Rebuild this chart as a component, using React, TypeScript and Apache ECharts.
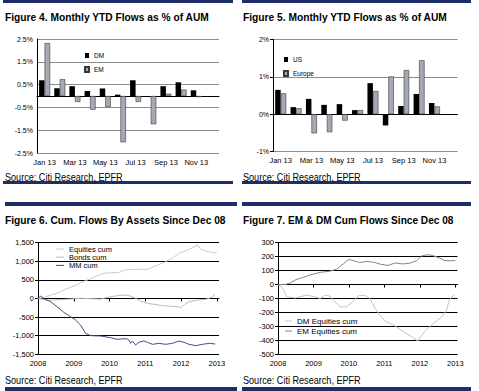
import React, { useEffect, useRef } from 'react';
import * as echarts from 'echarts';

const FONT = '"Liberation Sans", Arial, sans-serif';

// Figure 4 & 5: monthly YTD flows as % of AUM
const months = ['Jan 13', 'Feb 13', 'Mar 13', 'Apr 13', 'May 13', 'Jun 13', 'Jul 13', 'Aug 13', 'Sep 13', 'Oct 13', 'Nov 13', 'Dec 13'];
const dmFlows = [0.69, 0.34, 0.43, 0.22, 0.33, 0.06, 0.69, 0, 0.43, 0.6, 0.25, null];
const emFlows = [2.32, 0.74, -0.26, -0.6, -0.48, -2.03, -0.26, -1.24, 0.1, 0.28, -0.05, null];
const usFlows = [0.65, 0.19, 0.41, 0.25, 0.27, 0.11, 0.83, -0.3, 0.22, 0.54, 0.3, null];
const europeFlows = [0.56, 0.16, -0.51, -0.48, -0.17, 0.11, 0.62, 1.01, 1.18, 1.44, 0.21, null];
const fig4Ticks = [-2.5, -1.5, -0.5, 0.5, 1.5, 2.5];

// Figure 6 & 7: cumulative flows since Dec 08 (x = year)
const yearTicks = [2008, 2009, 2010, 2011, 2012, 2013];
const equitiesCum = [
  [2008.0, 0], [2008.15, 20], [2008.35, 90], [2008.5, 130], [2008.72, 228], [2008.9, 300], [2009.09, 363],
  [2009.19, 430], [2009.33, 480], [2009.5, 540], [2009.65, 610], [2009.84, 680], [2010.03, 690], [2010.25, 700],
  [2010.45, 770], [2010.7, 785], [2011.06, 784], [2011.3, 880], [2011.57, 990], [2011.75, 1080], [2011.94, 1214],
  [2012.15, 1290], [2012.32, 1366], [2012.46, 1438], [2012.55, 1330], [2012.74, 1259], [2012.95, 1232], [2013.0, 1225],
];
const bondsCum = [
  [2008.0, 0], [2008.1, -20], [2008.3, -50], [2008.5, -35], [2008.8, -20], [2009.2, 5], [2009.5, -5], [2009.75, -15],
  [2010.0, 40], [2010.25, 80], [2010.45, 94], [2010.6, 60], [2010.73, 4], [2010.9, -80], [2011.06, -130],
  [2011.3, -165], [2011.48, -193], [2011.75, -210], [2011.94, -220], [2011.99, -246], [2012.1, -160],
  [2012.22, -85], [2012.46, -40], [2012.69, -22], [2012.85, 30], [2012.95, 112],
];
const mmCum = [
  [2008.0, 0], [2008.07, 67], [2008.2, -20], [2008.35, -85], [2008.53, -219], [2008.72, -372], [2008.91, -488],
  [2009.05, -578], [2009.19, -712], [2009.33, -936], [2009.47, -999], [2009.75, -1008], [2010.03, -1053],
  [2010.21, -1098], [2010.4, -1080], [2010.5, -1090], [2010.54, -1115], [2010.59, -1205], [2010.64, -1142],
  [2010.73, -1250], [2010.82, -1178], [2010.96, -1142], [2011.06, -1178], [2011.2, -1232], [2011.38, -1205],
  [2011.57, -1232], [2011.76, -1205], [2011.94, -1142], [2012.08, -1178], [2012.22, -1232], [2012.41, -1268],
  [2012.6, -1232], [2012.79, -1205], [2012.95, -1223],
];
const dmEquitiesCum = [
  [2008.0, 0], [2008.11, -17], [2008.25, -88], [2008.49, -96], [2008.65, -85], [2008.81, -76], [2009.05, -88],
  [2009.19, -100], [2009.33, -76], [2009.47, -84], [2009.61, -124], [2009.75, -160], [2009.93, -160],
  [2010.12, -120], [2010.26, -81], [2010.45, -76], [2010.59, -100], [2010.73, -170], [2011.0, -260],
  [2011.29, -295], [2011.57, -345], [2011.76, -372], [2011.94, -405], [2012.08, -355], [2012.22, -315],
  [2012.41, -272], [2012.6, -235], [2012.74, -190], [2012.83, -110], [2012.97, -72],
];
const emEquitiesCum = [
  [2008.0, 0], [2008.2, 0], [2008.35, 12], [2008.5, 35], [2008.7, 50], [2008.9, 68], [2009.2, 88], [2009.45, 95],
  [2009.65, 110], [2009.85, 150], [2010.0, 180], [2010.15, 170], [2010.3, 158], [2010.5, 166], [2010.7, 160],
  [2010.9, 145], [2011.1, 137], [2011.3, 155], [2011.5, 148], [2011.7, 152], [2011.9, 170], [2012.05, 205],
  [2012.2, 213], [2012.35, 210], [2012.55, 190], [2012.7, 172], [2012.85, 170], [2013.0, 172],
];

const NAVY = '#1f2c6a';
const GRAY_BAR = '#a3aab6';
const txt = { color: '#000', fontFamily: FONT };

// label axis at the bottom of the grid, plus a line/tick axis sitting on zero
function catX(gridIndex: number): any[] {
  return [
    {
      gridIndex, type: 'category', data: months, boundaryGap: true, position: 'bottom',
      axisLine: { show: false, onZero: false }, axisTick: { show: false },
      axisLabel: { interval: 1, margin: 5, fontSize: 7.5, ...txt }, splitLine: { show: false },
    },
    {
      gridIndex, type: 'category', data: months, boundaryGap: true, position: 'bottom',
      axisLine: { onZero: true, lineStyle: { color: '#000', width: 1 } },
      axisTick: { interval: 1, length: 3, lineStyle: { color: '#000' } },
      axisLabel: { show: false }, splitLine: { show: false },
    },
  ];
}
function yearX(gridIndex: number): any[] {
  const base = { gridIndex, type: 'value', min: 2008, max: 2013.06, interval: 1, position: 'bottom', splitLine: { show: false } };
  return [
    {
      ...base, axisLine: { show: false, onZero: false }, axisTick: { show: false, customValues: yearTicks },
      axisLabel: { customValues: yearTicks, margin: 5, fontSize: 7.5, formatter: (v: number) => String(v), ...txt },
    },
    {
      ...base, axisLine: { onZero: true, lineStyle: { color: '#000', width: 1 } },
      axisTick: { customValues: yearTicks, length: 3, lineStyle: { color: '#000' } },
      axisLabel: { show: false, customValues: yearTicks },
    },
  ];
}
function valY(gridIndex: number, min: number, max: number, interval: number, fmt: (v: number) => string, splitColor: string, extra: any = {}) {
  return {
    gridIndex, type: 'value', min, max, interval,
    axisLine: { show: true, lineStyle: { color: '#000', width: 1 } },
    axisTick: { show: true, length: 3, lineStyle: { color: '#000' }, ...(extra.axisTick || {}) },
    axisLabel: { fontSize: 7, margin: 4, formatter: fmt, ...txt, ...(extra.axisLabel || {}) },
    splitLine: { show: true, lineStyle: { color: splitColor, width: 1 } },
  };
}

function buildOption(): any {
  const rules = [
    [3, 0, 230, 3], [242, 0, 229, 3], [3, 181, 230, 3], [242, 181, 229, 3],
    [5, 202, 232, 4], [242, 202, 229, 4], [5, 387, 232, 4], [242, 387, 229, 4],
  ];
  const titles: [number, number, string, number][] = [
    [5, 17, 'Figure 4. Monthly YTD Flows as % of AUM', 0.93],
    [243, 17, 'Figure 5. Monthly YTD Flows as % of AUM', 0.93],
    [5, 220, 'Figure 6. Cum. Flows By Assets Since Dec 08', 0.93],
    [243, 220, 'Figure 7. EM & DM Cum Flows Since Dec 08', 0.92],
  ];
  const sources = [[5, 177], [243, 177], [5, 380], [243, 380]];
  const graphic: any[] = [];
  rules.forEach(([x, y, w, h]) => graphic.push({ type: 'rect', shape: { x, y, width: w, height: h }, style: { fill: NAVY }, silent: true }));
  titles.forEach(([x, y, t, s]) => graphic.push({
    type: 'text', x, y, scaleX: s, style: { text: t, fill: '#000', font: `bold 11px ${FONT}`, verticalAlign: 'middle' },
  }));
  sources.forEach(([x, y]) => graphic.push({
    type: 'text', x, y, scaleX: 0.91, style: { text: 'Source: Citi Research, EPFR', fill: '#000', font: `10px ${FONT}`, verticalAlign: 'middle' },
  }));

  const legendBase = { orient: 'vertical', padding: 0, textStyle: { fontSize: 6.5, ...txt } };
  const gridBase = { outerBoundsMode: 'none', containLabel: false };

  return {
    animation: false,
    backgroundColor: '#fff',
    graphic,
    legend: [
      { ...legendBase, data: ['DM', 'EM'], left: 84, top: 52, itemWidth: 4, itemHeight: 5, itemGap: 7, icon: 'rect' },
      { ...legendBase, data: ['US', 'Europe'], left: 283, top: 56, itemWidth: 4, itemHeight: 5, itemGap: 7, icon: 'rect' },
      {
        ...legendBase, data: ['Equities cum', 'Bonds cum', 'MM cum'], left: 56, top: 245, icon: 'rect',
        itemWidth: 8, itemHeight: 1, itemGap: 0.2, textStyle: { fontSize: 7.5, lineHeight: 8, ...txt },
      },
      {
        ...legendBase, data: ['DM Equities cum', 'EM Equities cum'], left: 285, top: 317, icon: 'rect',
        itemWidth: 7, itemHeight: 1, itemGap: 2, textStyle: { fontSize: 8, lineHeight: 8, ...txt },
      },
    ],
    grid: [
      { ...gridBase, left: 37, top: 39, width: 182, height: 114 },
      { ...gridBase, left: 273, top: 39.3, width: 184.5, height: 112.4 },
      { ...gridBase, left: 38, top: 242.7, width: 181, height: 111.6 },
      { ...gridBase, left: 278, top: 242.7, width: 179.5, height: 111.6 },
    ],
    xAxis: [...catX(0), ...catX(1), ...yearX(2), ...yearX(3)],
    yAxis: [
      valY(0, -2.5, 2.5, 0.5, (v) => v.toFixed(1) + '%', '#8c8c8c', {
        axisTick: { customValues: fig4Ticks, show: false },
        axisLabel: { customValues: fig4Ticks },
      }),
      valY(1, -1, 2, 1, (v) => v + '%', '#8c8c8c'),
      valY(2, -1500, 1500, 500, (v) => v.toLocaleString('en-US'), '#000', { axisLabel: { fontSize: 7.5 } }),
      valY(3, -500, 300, 100, (v) => String(v), '#000', { axisLabel: { fontSize: 7.5 } }),
    ],
    series: [
      { type: 'bar', name: 'DM', xAxisIndex: 0, yAxisIndex: 0, data: dmFlows, barWidth: 5.5, barGap: '0%', itemStyle: { color: '#000' } },
      { type: 'bar', name: 'EM', xAxisIndex: 0, yAxisIndex: 0, data: emFlows, barWidth: 5.5, barGap: '0%', itemStyle: { color: GRAY_BAR, borderColor: '#3a3a3a', borderWidth: 0.6 } },
      { type: 'bar', name: 'US', xAxisIndex: 2, yAxisIndex: 1, data: usFlows, barWidth: 5.5, barGap: '0%', itemStyle: { color: '#000' } },
      { type: 'bar', name: 'Europe', xAxisIndex: 2, yAxisIndex: 1, data: europeFlows, barWidth: 5.5, barGap: '0%', itemStyle: { color: GRAY_BAR, borderColor: '#3a3a3a', borderWidth: 0.6 } },
      { type: 'line', name: 'Equities cum', xAxisIndex: 4, yAxisIndex: 2, data: equitiesCum, symbol: 'none', lineStyle: { color: '#c9c9d2', width: 1 }, itemStyle: { color: '#c9c9d2' } },
      { type: 'line', name: 'Bonds cum', xAxisIndex: 4, yAxisIndex: 2, data: bondsCum, symbol: 'none', lineStyle: { color: '#b9b9c2', width: 1 }, itemStyle: { color: '#b9b9c2' } },
      { type: 'line', name: 'MM cum', xAxisIndex: 4, yAxisIndex: 2, data: mmCum, symbol: 'none', lineStyle: { color: '#4c4c82', width: 1 }, itemStyle: { color: '#4c4c82' } },
      { type: 'line', name: 'DM Equities cum', xAxisIndex: 6, yAxisIndex: 3, data: dmEquitiesCum, symbol: 'none', lineStyle: { color: '#c4c4c4', width: 1 }, itemStyle: { color: '#c4c4c4' } },
      { type: 'line', name: 'EM Equities cum', xAxisIndex: 6, yAxisIndex: 3, data: emEquitiesCum, symbol: 'none', lineStyle: { color: '#858585', width: 1 }, itemStyle: { color: '#858585' } },
    ],
  };
}

export default function App() {
  const ref = useRef<HTMLDivElement>(null);
  useEffect(() => {
    document.body.style.margin = '0';
    const chart = echarts.init(ref.current as HTMLDivElement, null, { renderer: 'svg' });
    chart.setOption(buildOption());
    return () => chart.dispose();
  }, []);
  return <div ref={ref} style={{ position: 'absolute', left: 0, top: 0, width: 479, height: 391, background: '#fff' }} />;
}
